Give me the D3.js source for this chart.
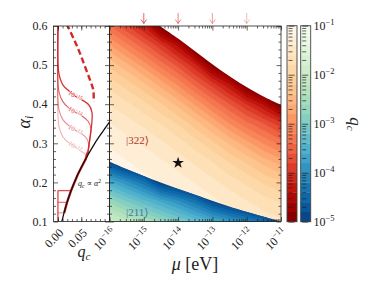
<!DOCTYPE html>
<html>
<head>
<meta charset="utf-8">
<script src="https://cdn.jsdelivr.net/npm/d3@7"></script>
<style>
  body { margin: 0; background: #fff; }
  text { font-family: "Liberation Serif", "DejaVu Serif", serif; fill: #222; }
</style>
</head>
<body>
<svg id="chart" width="373" height="287"></svg>
<script>
// ---- data ----
// grid for the filled maps: columns are log10(mu / eV), rows are alpha
var muExp = [-16, -15.5, -15, -14.5, -14, -13.5, -13, -12.5, -12, -11.5, -11];
var alphaRows = [0.10, 0.15, 0.20, 0.25, 0.30, 0.35, 0.40, 0.45, 0.50, 0.55, 0.60];

// log10 q_c of the |322> cloud, one row per alpha (bottom to top)
var logq322 = [
  [-1.00, -1.02, -1.04, -1.05, -1.08, -1.13, -1.20, -1.29, -1.37, -1.47, -1.56],
  [-1.03, -1.05, -1.07, -1.10, -1.16, -1.25, -1.34, -1.46, -1.58, -1.71, -1.81],
  [-1.06, -1.09, -1.14, -1.21, -1.30, -1.41, -1.54, -1.69, -1.84, -2.03, -2.17],
  [-1.12, -1.18, -1.26, -1.36, -1.48, -1.63, -1.79, -2.00, -2.21, -2.46, -2.67],
  [-1.23, -1.32, -1.43, -1.56, -1.71, -1.90, -2.14, -2.43, -2.72, -3.02, -3.28],
  [-1.39, -1.51, -1.65, -1.81, -2.02, -2.30, -2.63, -3.00, -3.33, -3.60, -3.93],
  [-1.60, -1.75, -1.94, -2.17, -2.47, -2.83, -3.22, -3.60, -4.00, -4.43, -5.03],
  [-1.87, -2.08, -2.35, -2.67, -3.03, -3.45, -3.88, -4.37, -5.10, -5.50, -5.80],
  [-2.25, -2.55, -2.89, -3.28, -3.67, -4.15, -4.94, -5.45, -5.90, -6.20, -6.50],
  [-2.77, -3.13, -3.51, -3.93, -4.46, -5.24, -5.77, -6.20, -6.60, -6.90, -7.10],
  [-3.38, -3.78, -4.23, -5.03, -5.51, -6.00, -6.47, -6.90, -7.20, -7.50, -7.70]
];

// log10 q_c of the |211> cloud
var logq211 = [
  [-1.86, -2.14, -2.40, -2.70, -2.98, -3.27, -3.55, -3.84, -4.12, -4.45, -5.00],
  [-2.65, -2.98, -3.29, -3.60, -3.92, -4.30, -4.85, -5.19, -5.40, -5.60, -5.80],
  [-3.55, -3.92, -4.33, -5.00, -5.26, -5.51, -5.75, -5.97, -6.10, -6.30, -6.50],
  [-4.85, -5.26, -5.53, -5.80, -6.03, -6.25, -6.45, -6.60, -6.80, -7.00, -7.00],
  [-5.75, -6.00, -6.26, -6.50, -6.70, -6.90, -7.00, -7.00, -7.00, -7.00, -7.00],
  [-6.50, -7.00, -7.00, -7.00, -7.00, -7.00, -7.00, -7.00, -7.00, -7.00, -7.00],
  [-7.00, -7.00, -7.00, -7.00, -7.00, -7.00, -7.00, -7.00, -7.00, -7.00, -7.00],
  [-7.00, -7.00, -7.00, -7.00, -7.00, -7.00, -7.00, -7.00, -7.00, -7.00, -7.00],
  [-7.00, -7.00, -7.00, -7.00, -7.00, -7.00, -7.00, -7.00, -7.00, -7.00, -7.00],
  [-7.00, -7.00, -7.00, -7.00, -7.00, -7.00, -7.00, -7.00, -7.00, -7.00, -7.00],
  [-7.00, -7.00, -7.00, -7.00, -7.00, -7.00, -7.00, -7.00, -7.00, -7.00, -7.00]
];

// edge of the |322> region (white above it)
var topEdgeMu = [-14.53, -13.94, -13.36, -12.78, -12.2, -11.61, -11.0];
var topEdgeAlpha = [0.600, 0.564, 0.526, 0.488, 0.454, 0.424, 0.398];
// edge between |322> and |211>
var lowEdgeMu = [-16, -15.33, -14.33, -13.36, -12.4, -11.42, -11.0];
var lowEdgeAlpha = [0.253, 0.228, 0.194, 0.164, 0.135, 0.110, 0.100];

var starPoint = [-14, 0.25];
var arrowMu = [-15, -14, -13, -12];

// left panel: q_c vs alpha for fixed mu
var muCurveLabels = ["\u221215", "\u221214", "\u221213", "\u221212"];
var muCurveQ = [
  [0, 0, 0.0023, 0.0109, 0.0237, 0.0365, 0.0515, 0.0664, 0.0728, 0.0728, 0.0685, 0.0643],
  [0, 0, 0.0023, 0.0109, 0.0237, 0.0365, 0.0515, 0.0643, 0.0707, 0.0685, 0.0643],
  [0, 0, 0.0023, 0.0109, 0.0237, 0.0365, 0.0515, 0.0622, 0.0664, 0.0643],
  [0, 0, 0.0023, 0.0109, 0.0237, 0.0365, 0.0493, 0.0578, 0.0622]
];
var muCurveAlpha = [
  [0.6, 0.508, 0.477, 0.449, 0.434, 0.421, 0.411, 0.398, 0.380, 0.355, 0.314, 0.278],
  [0.6, 0.462, 0.431, 0.406, 0.390, 0.380, 0.370, 0.357, 0.339, 0.309, 0.278],
  [0.6, 0.416, 0.385, 0.360, 0.345, 0.334, 0.324, 0.311, 0.293, 0.278],
  [0.6, 0.373, 0.342, 0.316, 0.301, 0.291, 0.280, 0.273, 0.265]
];
var stackQ = [0.0643, 0.0595, 0.0425, 0.0285, 0.0195, 0.0135];
var stackAlpha = [0.278, 0.26, 0.22, 0.18, 0.149, 0.122];
var boxAlpha = [0.179, 0.149, 0.122];
var boxQ = [0.0285, 0.0195, 0.0135];

var dashQ = [0.0188, 0.0366, 0.0473, 0.058, 0.0687, 0.0758, 0.0765];
var dashAlpha = [0.605, 0.56, 0.53, 0.496, 0.462, 0.436, 0.406];

var blackAlpha = [0.1, 0.14, 0.18, 0.22, 0.26, 0.30, 0.33, 0.36];
var blackQ = [0.0085, 0.0172, 0.0285, 0.0425, 0.0595, 0.079, 0.096, 0.114];

var alphaTicks = [0.1, 0.2, 0.3, 0.4, 0.5, 0.6];
var qTicks = [0, 0.05];
var cbDecades = [-5, -4, -3, -2, -1];

// ---- layout ----
var svg = d3.select("#chart");
var left = { x0: 53.5, x1: 109.5 };
var main = { x0: 109.5, x1: 281 };
var yTop = 26, yBot = 221.5;

var ya = d3.scaleLinear().domain([0.1, 0.6]).range([yBot, yTop]);
var xq = d3.scaleLinear().domain([-0.0095, 0.1105]).range([left.x0, left.x1]);
var xm = d3.scaleLog().domain([1e-16, 1e-11]).range([main.x0, main.x1]);
var xmu = function(e) { return xm(Math.pow(10, e)); };

var cb = { red: 287, blue: 300.7, w: 10 };
var ycb = d3.scaleLog().domain([1e-5, 1e-1]).range([221.7, 25.7]);

var levels = d3.range(-5, -1.01, 0.2);
var col322 = function(v) { return d3.interpolateOrRd(Math.min(1, Math.max(0, 1 - (v + 5) / 4))); };
var col211 = function(v) { return d3.interpolateGnBu(Math.min(1, Math.max(0, 1 - (v + 5) / 4))); };

var defs = svg.append("defs");
defs.append("clipPath").attr("id", "mainRect").append("rect")
    .attr("x", main.x0).attr("y", yTop).attr("width", main.x1 - main.x0).attr("height", yBot - yTop);
defs.append("clipPath").attr("id", "leftRect").append("rect")
    .attr("x", left.x0).attr("y", yTop).attr("width", left.x1 - left.x0).attr("height", yBot - yTop);

var smooth = d3.line().curve(d3.curveCatmullRom.alpha(0.5));
var topPts = topEdgeMu.map(function(m, i) { return [xmu(m), ya(topEdgeAlpha[i])]; });
var lowPts = lowEdgeMu.map(function(m, i) { return [xmu(m), ya(lowEdgeAlpha[i])]; });

// region below the top edge
var p322 = "M" + xmu(-16.2) + "," + ya(0.62) + "L" + xmu(-14.6) + "," + ya(0.62) + "L" +
    smooth(topPts).slice(1) + "L" + xmu(-10.8) + "," + ya(0.39) +
    "L" + xmu(-10.8) + "," + ya(0.08) + "L" + xmu(-16.2) + "," + ya(0.08) + "Z";
// region below the |322>/|211> edge
var p211 = "M" + xmu(-16.2) + "," + ya(0.258) + "L" + smooth(lowPts).slice(1) +
    "L" + xmu(-10.8) + "," + ya(0.09) + "L" + xmu(-10.8) + "," + ya(0.08) +
    "L" + xmu(-16.2) + "," + ya(0.08) + "Z";
defs.append("clipPath").attr("id", "clip322").append("path").attr("d", p322);
defs.append("clipPath").attr("id", "clip211").append("path").attr("d", p211);

// grid cell centres -> pixels
var gridProj = d3.geoTransform({
  point: function(gx, gy) {
    this.stream.point(xmu(muExp[0] + (gx - 0.5) * 0.5), ya(alphaRows[0] + (gy - 0.5) * 0.05));
  }
});
var gridPath = d3.geoPath(gridProj);

var drawField = function(rows, colour, clipId) {
  var values = [].concat.apply([], rows);
  var thr = levels.slice();
  thr[0] = -99;
  var bands = d3.contours().size([muExp.length, alphaRows.length]).thresholds(thr)(values);
  svg.append("g").attr("clip-path", "url(#mainRect)")
    .append("g").attr("clip-path", "url(#" + clipId + ")")
    .selectAll("path").data(bands).enter().append("path")
      .attr("d", gridPath)
      .attr("fill", function(d, i) { return colour(levels[i] + 0.1); })
      .attr("stroke", function(d, i) { return colour(levels[i] + 0.1); })
      .attr("stroke-width", 0.3);
};
drawField(logq322, col322, "clip322");
drawField(logq211, col211, "clip211");

// ---- left panel curves ----
var red = "#d62728";
var curveOpacity = [0.95, 0.72, 0.52, 0.36];
var leftG = svg.append("g").attr("clip-path", "url(#leftRect)");
var ptsOf = function(qs, as) { return qs.map(function(q, i) { return [xq(q), ya(as[i])]; }); };
var straight = d3.line();

leftG.append("path").attr("d", straight(ptsOf(stackQ, stackAlpha)))
  .attr("fill", "none").attr("stroke", red).attr("stroke-width", 2.4);
leftG.append("path").attr("d", straight([[xq(0), ya(0.1)], [xq(0), ya(boxAlpha[0])]]))
  .attr("fill", "none").attr("stroke", red).attr("stroke-width", 1.1);
boxAlpha.forEach(function(a, i) {
  leftG.append("path").attr("d", straight([[xq(0), ya(a)], [xq(boxQ[i]), ya(a)]]))
    .attr("fill", "none").attr("stroke", red).attr("stroke-opacity", curveOpacity[i + 1] + 0.1)
    .attr("stroke-width", 1.1);
});

muCurveQ.forEach(function(qs, k) {
  var pts = ptsOf(qs, muCurveAlpha[k]);
  leftG.append("path").attr("d", smooth(pts))
    .attr("fill", "none").attr("stroke", red).attr("stroke-opacity", curveOpacity[k])
    .attr("stroke-width", k === 0 ? 1.3 : 1.1);
});
muCurveQ.forEach(function(qs, k) {
  var pts = ptsOf(qs, muCurveAlpha[k]);
  var p = pts[5], a = pts[4], b = pts[6];
  var ang = Math.atan2(b[1] - a[1], b[0] - a[0]) * 180 / Math.PI;
  var t = leftG.append("text")
    .attr("transform", "translate(" + p[0] + "," + p[1] + ") rotate(" + ang + ")")
    .attr("text-anchor", "middle").attr("dy", "0.33em")
    .attr("font-size", 7)
    .style("fill", red).style("fill-opacity", Math.min(1, curveOpacity[k] + 0.15))
    .style("stroke", "#fff").style("stroke-width", 0.9).style("paint-order", "stroke");
  t.append("tspan").text("10");
  t.append("tspan").attr("dy", -2.6).attr("font-size", 5).text(muCurveLabels[k]);
});

leftG.append("path").attr("d", smooth(ptsOf(dashQ, dashAlpha)))
  .attr("fill", "none").attr("stroke", red).attr("stroke-width", 2.4)
  .attr("stroke-dasharray", "6,3.2");

leftG.append("path").attr("d", smooth(ptsOf(blackQ, blackAlpha)))
  .attr("fill", "none").attr("stroke", "#111").attr("stroke-width", 1.3);

var qc = svg.append("text").attr("x", 78).attr("y", 186).attr("font-size", 8);
qc.append("tspan").attr("font-style", "italic").text("q");
qc.append("tspan").attr("font-size", 5.8).attr("dy", 1.5).attr("font-style", "italic").text("c");
qc.append("tspan").attr("dy", -1.5).text(" \u221d ");
qc.append("tspan").attr("font-style", "italic").text("\u03b1");
qc.append("tspan").attr("font-size", 5.8).attr("dy", -3).text("2");

// ---- ticks and frames ----
var tickLine = function(g) {
  g.select(".domain").remove();
  g.selectAll("line").attr("stroke", "#222").attr("stroke-width", 0.7);
};
var ticks = function(maker, scale, values, len, tx, ty) {
  svg.append("g").attr("transform", "translate(" + tx + "," + ty + ")")
    .call(maker(scale).tickValues(values).tickSize(-len).tickFormat(""))
    .call(tickLine);
};
var alphaMinor = d3.range(0.1, 0.6001, 0.02).filter(function(v) { return Math.abs(v * 10 - Math.round(v * 10)) > 1e-6; });
var qMinor = d3.range(0, 0.111, 0.01);
var muMajor = d3.range(-16, -10.5, 1).map(function(e) { return Math.pow(10, e); });
var muMinor = [];
d3.range(-16, -11).forEach(function(e) {
  for (var k = 2; k < 10; k++) muMinor.push(k * Math.pow(10, e));
});

// left panel
ticks(d3.axisLeft, ya, alphaTicks, 4.5, left.x0, 0);
ticks(d3.axisLeft, ya, alphaMinor, 2.5, left.x0, 0);
ticks(d3.axisRight, ya, alphaTicks, 4.5, left.x1, 0);
ticks(d3.axisRight, ya, alphaMinor, 2.5, left.x1, 0);
ticks(d3.axisBottom, xq, qTicks, 4.5, 0, yBot);
ticks(d3.axisBottom, xq, qMinor, 2.5, 0, yBot);
ticks(d3.axisTop, xq, qTicks, 4.5, 0, yTop);
ticks(d3.axisTop, xq, qMinor, 2.5, 0, yTop);
// main panel
ticks(d3.axisLeft, ya, alphaTicks, 4.5, main.x0, 0);
ticks(d3.axisLeft, ya, alphaMinor, 2.5, main.x0, 0);
ticks(d3.axisRight, ya, alphaTicks, 4.5, main.x1, 0);
ticks(d3.axisRight, ya, alphaMinor, 2.5, main.x1, 0);
ticks(d3.axisBottom, xm, muMajor, 4.5, 0, yBot);
ticks(d3.axisBottom, xm, muMinor, 2.5, 0, yBot);
ticks(d3.axisTop, xm, muMajor, 4.5, 0, yTop);
ticks(d3.axisTop, xm, muMinor, 2.5, 0, yTop);

svg.append("rect").attr("x", left.x0).attr("y", yTop).attr("width", left.x1 - left.x0)
  .attr("height", yBot - yTop).attr("fill", "none").attr("stroke", "#222").attr("stroke-width", 0.8);
svg.append("rect").attr("x", main.x0).attr("y", yTop).attr("width", main.x1 - main.x0)
  .attr("height", yBot - yTop).attr("fill", "none").attr("stroke", "#222").attr("stroke-width", 0.8);

// tick labels
svg.selectAll(".alab").data(alphaTicks).enter().append("text")
  .attr("x", left.x0 - 6).attr("y", function(d) { return ya(d); }).attr("dy", "0.35em")
  .attr("text-anchor", "end").attr("font-size", 12).text(d3.format(".1f"));
svg.selectAll(".qlab").data(qTicks).enter().append("text")
  .attr("transform", function(d) { return "translate(" + (xq(d) - 1) + "," + 241 + ") rotate(-45)"; })
  .attr("text-anchor", "middle").attr("font-size", 12).text(d3.format(".2f"));
muMajor.forEach(function(v) {
  var t = svg.append("text")
    .attr("transform", "translate(" + (xm(v) - 2) + "," + 242 + ") rotate(-45)")
    .attr("text-anchor", "middle").attr("font-size", 12);
  t.append("tspan").text("10");
  t.append("tspan").attr("dy", -5).attr("font-size", 8.5).text("\u2212" + Math.round(-Math.log10(v)));
});

// axis titles
var at = svg.append("text").attr("transform", "translate(30,122) rotate(-90)")
  .attr("text-anchor", "middle").attr("font-size", 18);
at.append("tspan").attr("font-style", "italic").text("\u03b1");
at.append("tspan").attr("font-style", "italic").attr("font-size", 12).attr("dy", 3).text("i");
var qt = svg.append("text").attr("x", 84).attr("y", 257).attr("text-anchor", "middle").attr("font-size", 16);
qt.append("tspan").attr("font-style", "italic").text("q");
qt.append("tspan").attr("font-style", "italic").attr("font-size", 11).attr("dy", 3).text("c");
var mt = svg.append("text").attr("x", 195).attr("y", 270).attr("text-anchor", "middle").attr("font-size", 18);
mt.append("tspan").attr("font-style", "italic").text("\u03bc");
mt.append("tspan").text(" [eV]");

// arrows on top
arrowMu.forEach(function(e, i) {
  var x = xmu(e);
  svg.append("path")
    .attr("d", "M" + x + ",13 L" + x + ",23.5 M" + (x - 2.8) + ",19.5 L" + x + ",23.5 L" + (x + 2.8) + ",19.5")
    .attr("fill", "none").attr("stroke", red).attr("stroke-opacity", [0.7, 0.56, 0.44, 0.32][i])
    .attr("stroke-width", 1);
});

// star and state labels
svg.append("path").attr("d", d3.symbol(d3.symbolStar, 42)())
  .attr("transform", "translate(" + xmu(starPoint[0]) + "," + ya(starPoint[1]) + ")")
  .attr("fill", "#111");
svg.append("text").attr("x", 126).attr("y", 144).attr("font-size", 11)
  .style("fill", "#b2352a").text("|322\u27e9");
svg.append("text").attr("x", 126).attr("y", 216).attr("font-size", 11)
  .style("fill", "#3f78aa").text("|211\u27e9");

// ---- colour bars ----
var drawBar = function(x0, colour) {
  var g = svg.append("g");
  levels.forEach(function(l) {
    var y1 = ycb(Math.pow(10, l + 0.2)), y0 = ycb(Math.pow(10, l));
    g.append("rect").attr("x", x0).attr("y", y1).attr("width", cb.w).attr("height", y0 - y1 + 0.3)
      .attr("fill", colour(l + 0.1));
  });
  var minor = [];
  cbDecades.slice(0, 4).forEach(function(e) {
    for (var k = 2; k < 10; k++) minor.push(k * Math.pow(10, e));
  });
  var major = cbDecades.map(function(e) { return Math.pow(10, e); });
  ticks(d3.axisLeft, ycb, major, 6, x0 + 1.5, 0);
  ticks(d3.axisLeft, ycb, minor, 4, x0 + 1.5, 0);
  g.append("rect").attr("x", x0).attr("y", 25.7).attr("width", cb.w).attr("height", 196)
    .attr("fill", "none").attr("stroke", "#444").attr("stroke-width", 0.9);
};
drawBar(cb.red, col322);
drawBar(cb.blue, col211);

cbDecades.forEach(function(e) {
  var t = svg.append("text").attr("x", 313.5).attr("y", ycb(Math.pow(10, e))).attr("dy", "0.38em")
    .attr("font-size", 12);
  t.append("tspan").text("10");
  t.append("tspan").attr("dy", -5).attr("font-size", 8.5).text("\u2212" + (-e));
});
var ct = svg.append("text").attr("transform", "translate(350,124) rotate(90)")
  .attr("text-anchor", "middle").attr("font-size", 17);
ct.append("tspan").attr("font-style", "italic").text("q");
ct.append("tspan").attr("font-style", "italic").attr("font-size", 11).attr("dy", 3).text("c");
</script>
</body>
</html>
